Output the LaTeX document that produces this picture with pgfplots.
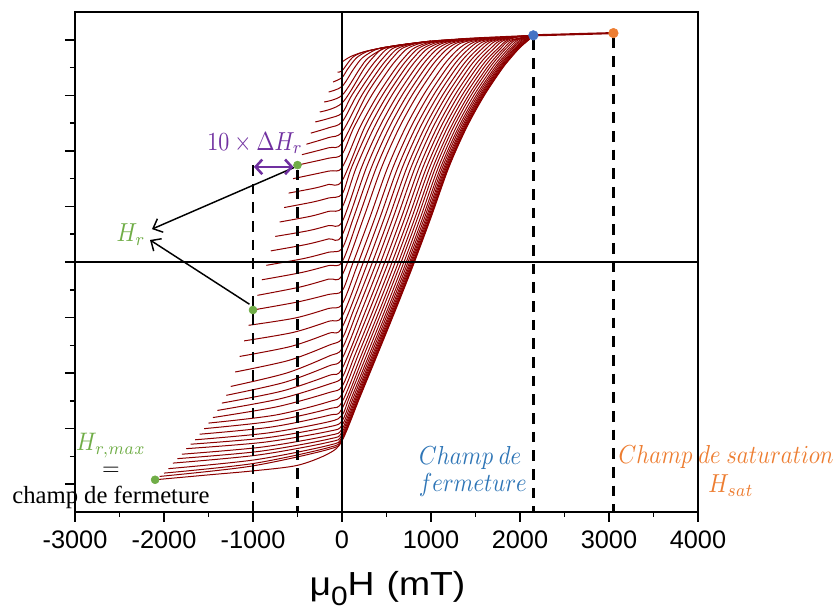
\documentclass[border=0pt]{standalone}
\usepackage{graphicx}
\usepackage{fontspec}
\setmainfont{Liberation Serif}
\newfontfamily\arial{Liberation Sans}
\usepackage{pgfplots}
\pgfplotsset{compat=1.18}
\usetikzlibrary{arrows.meta}
\definecolor{curvec}{RGB}{139,0,0}
\definecolor{grn}{RGB}{112,173,71}
\definecolor{purp}{RGB}{112,48,160}
\definecolor{bluedot}{RGB}{68,114,196}
\definecolor{bluetxt}{RGB}{46,117,182}
\definecolor{orng}{RGB}{237,125,49}
\begin{document}
\begin{tikzpicture}
\useasboundingbox (-56.25pt,-78pt) rectangle (573.75pt,384pt);
\begin{axis}[
  at={(0,0)}, anchor=south west,
  scale only axis, width=467.25pt, height=375pt,
  xmin=-3000, xmax=4000, ymin=-1.125, ymax=1.125,
  xtick={-3000,-2000,...,4000},
  xticklabels={-3000,-2000,-1000,0,1000,2000,3000,4000},
  minor xtick={-2500,-1500,...,3500},
  ytick={-1,-0.75,...,1}, yticklabels={},
  minor ytick={-0.875,-0.625,...,0.875},
  tick align=outside, tick pos=left,
  major tick length=7.5pt, minor tick length=3.75pt,
  major tick style={black, line width=1.1pt},
  minor tick style={black, line width=1.1pt},
  axis line style={line width=1.1pt},
  xticklabel style={font=\arial\fontsize{19}{19}\selectfont, yshift=-3pt},
  clip=false,
  fc/.style={curvec, line width=0.75pt, smooth},
  dl/.style={black, line width=2pt, dash pattern=on 8pt off 6pt},
]
% FORC curves
\addplot[fc] coordinates {(0,0.90) (100,0.925) (250,0.946) (500,0.967) (750,0.982) (1000,0.994) (1400,1.006) (1800,1.014) (2150,1.02)};
\addplot[fc] coordinates {(-50,0.855) (0,0.86) (117,0.92) (250,0.946) (500,0.967)};
\addplot[fc] coordinates {(-100,0.81) (0,0.83) (67,0.87) (167,0.92) (300,0.95) (500,0.967) (750,0.982)};
\addplot[fc] coordinates {(-150,0.765) (0,0.79) (133,0.87) (233,0.92) (400,0.959) (600,0.973) (800,0.984)};
\addplot[fc] coordinates {(-200,0.72) (0,0.75) (200,0.87) (300,0.92) (500,0.965) (750,0.982) (1000,0.994)};
\addplot[fc] coordinates {(-250,0.675) (0,0.715) (248,0.87) (348,0.92) (448,0.958) (600,0.972) (800,0.984) (1000,0.994)};
\addplot[fc] coordinates {(-300,0.63) (-150,0.646) (0,0.67) (110,0.75) (310,0.87) (410,0.92) (510,0.96) (650,0.975) (850,0.987) (1000,0.994)};
\addplot[fc] coordinates {(-350,0.58) (-150,0.604) (0,0.63) (166,0.75) (366,0.87) (466,0.92) (566,0.96) (700,0.977) (900,0.988) (1100,0.997)};
\addplot[fc] coordinates {(-400,0.53) (-150,0.56) (0,0.585) (222,0.75) (422,0.87) (522,0.92) (622,0.96) (760,0.979) (950,0.991) (1150,0.998)};
\addplot[fc] coordinates {(-450,0.483) (-150,0.514) (0,0.535) (272,0.75) (472,0.87) (572,0.92) (672,0.96) (820,0.982) (1000,0.993) (1200,1.0)};
\addplot[fc] coordinates {(-500,0.436) (-150,0.467) (0,0.485) (133,0.605) (333,0.75) (533,0.87) (633,0.92) (733,0.96) (880,0.984) (1050,0.994) (1250,1.001)};
\addplot[fc] coordinates {(-550,0.375) (-150,0.409) (0,0.425) (200,0.605) (400,0.75) (600,0.87) (700,0.92) (800,0.96) (950,0.985) (1150,0.996) (1350,1.004)};
\addplot[fc] coordinates {(-600,0.31) (-300,0.333) (-150,0.349) (0,0.365) (253,0.605) (453,0.75) (653,0.87) (753,0.92) (853,0.96) (1000,0.986) (1200,0.998) (1400,1.005)};
\addplot[fc] coordinates {(-650,0.245) (-325,0.27) (-150,0.288) (0,0.305) (107,0.425) (307,0.605) (507,0.75) (707,0.87) (807,0.92) (907,0.96) (1050,0.986) (1250,0.999) (1450,1.006)};
\addplot[fc] coordinates {(-700,0.18) (-350,0.206) (-150,0.228) (0,0.245) (160,0.425) (360,0.605) (560,0.75) (760,0.87) (860,0.92) (960,0.96) (1100,0.986) (1300,1.0) (1500,1.007)};
\addplot[fc] coordinates {(-750,0.115) (-375,0.141) (-150,0.164) (0,0.18) (219,0.425) (419,0.605) (619,0.75) (819,0.87) (919,0.92) (1019,0.96) (1150,0.987) (1350,1.001) (1550,1.008)};
\addplot[fc] coordinates {(-800,0.05) (-400,0.079) (-150,0.104) (0,0.12) (274,0.425) (474,0.605) (674,0.75) (874,0.87) (974,0.92) (1074,0.96) (1200,0.987) (1400,1.002) (1600,1.009)};
\addplot[fc] coordinates {(-850,-0.015) (-425,0.016) (-150,0.044) (0,0.06) (130,0.20) (330,0.425) (530,0.605) (730,0.75) (930,0.87) (1030,0.92) (1130,0.96) (1250,0.987) (1450,1.003) (1650,1.01)};
\addplot[fc] coordinates {(-900,-0.08) (-450,-0.047) (-150,-0.016) (0,0.0) (186,0.20) (386,0.425) (586,0.605) (786,0.75) (986,0.87) (1086,0.92) (1186,0.96) (1300,0.987) (1500,1.003) (1700,1.011)};
\addplot[fc] coordinates {(-950,-0.15) (-475,-0.113) (-150,-0.077) (0,-0.06) (244,0.20) (444,0.425) (644,0.605) (844,0.75) (1044,0.87) (1144,0.92) (1244,0.96) (1350,0.987) (1550,1.004) (1750,1.012)};
\addplot[fc] coordinates {(-1000,-0.216) (-500,-0.18) (-150,-0.146) (0,-0.13) (113,-0.015) (313,0.20) (513,0.425) (713,0.605) (913,0.75) (1113,0.87) (1213,0.92) (1313,0.96) (1420,0.988) (1600,1.004) (1800,1.012)};
\addplot[fc] coordinates {(-1050,-0.285) (-525,-0.252) (-150,-0.209) (0,-0.19) (172,-0.015) (372,0.20) (572,0.425) (772,0.605) (972,0.75) (1172,0.87) (1272,0.92) (1372,0.96) (1480,0.989) (1650,1.005) (1850,1.013)};
\addplot[fc] coordinates {(-1100,-0.355) (-550,-0.317) (-150,-0.267) (0,-0.245) (227,-0.015) (427,0.20) (627,0.425) (827,0.605) (1027,0.75) (1227,0.87) (1327,0.92) (1427,0.96) (1530,0.99) (1700,1.006) (1900,1.014)};
\addplot[fc] coordinates {(-1150,-0.425) (-575,-0.38) (-150,-0.321) (0,-0.295) (278,-0.015) (478,0.20) (678,0.425) (878,0.605) (1078,0.75) (1278,0.87) (1378,0.92) (1478,0.96) (1580,0.99) (1750,1.007) (1950,1.015)};
\addplot[fc] coordinates {(-1200,-0.495) (-600,-0.443) (-150,-0.375) (0,-0.345) (129,-0.218) (329,-0.015) (529,0.20) (729,0.425) (929,0.605) (1129,0.75) (1329,0.87) (1429,0.92) (1529,0.96) (1630,0.991) (1800,1.008) (2000,1.016)};
\addplot[fc] coordinates {(-1250,-0.56) (-625,-0.50) (-150,-0.424) (0,-0.39) (175,-0.218) (375,-0.015) (575,0.20) (775,0.425) (975,0.605) (1175,0.75) (1375,0.87) (1475,0.92) (1575,0.96) (1675,0.992) (1850,1.009) (2050,1.017)};
\addplot[fc] coordinates {(-1300,-0.60) (-650,-0.542) (-150,-0.468) (0,-0.435) (221,-0.218) (421,-0.015) (621,0.20) (821,0.425) (1021,0.605) (1221,0.75) (1421,0.87) (1521,0.92) (1621,0.96) (1721,0.993) (1900,1.011) (2100,1.018)};
\addplot[fc] coordinates {(-1350,-0.635) (-675,-0.581) (-150,-0.511) (0,-0.48) (267,-0.218) (467,-0.015) (667,0.20) (867,0.425) (1067,0.605) (1267,0.75) (1467,0.87) (1567,0.92) (1667,0.96) (1767,0.994) (1950,1.013) (2150,1.02)};
\addplot[fc] coordinates {(-1400,-0.668) (-700,-0.616) (-150,-0.55) (0,-0.52) (108,-0.415) (308,-0.218) (508,-0.015) (708,0.20) (908,0.425) (1108,0.605) (1308,0.75) (1508,0.87) (1608,0.92) (1708,0.96) (1808,0.995) (2000,1.015) (2150,1.02)};
\addplot[fc] coordinates {(-1450,-0.70) (-725,-0.651) (-150,-0.588) (0,-0.56) (149,-0.415) (349,-0.218) (549,-0.015) (749,0.20) (949,0.425) (1149,0.605) (1349,0.75) (1549,0.87) (1649,0.92) (1749,0.96) (1849,0.996) (2000,1.015) (2150,1.02)};
\addplot[fc] coordinates {(-1500,-0.725) (-750,-0.689) (-150,-0.629) (0,-0.595) (185,-0.415) (385,-0.218) (585,-0.015) (785,0.20) (985,0.425) (1185,0.605) (1385,0.75) (1585,0.87) (1685,0.92) (1785,0.962) (1885,0.997) (2150,1.02)};
\addplot[fc] coordinates {(-1550,-0.75) (-775,-0.716) (-150,-0.661) (0,-0.63) (221,-0.415) (421,-0.218) (621,-0.015) (821,0.20) (1021,0.425) (1221,0.605) (1421,0.75) (1621,0.87) (1721,0.92) (1821,0.963) (1921,0.998) (2150,1.02)};
\addplot[fc] coordinates {(-1600,-0.775) (-800,-0.743) (-150,-0.69) (0,-0.66) (251,-0.415) (451,-0.218) (651,-0.015) (851,0.20) (1051,0.425) (1251,0.605) (1451,0.75) (1651,0.87) (1751,0.92) (1851,0.964) (1951,0.999) (2150,1.02)};
\addplot[fc] coordinates {(-1650,-0.80) (-825,-0.769) (-150,-0.719) (0,-0.69) (82,-0.61) (282,-0.415) (482,-0.218) (682,-0.015) (882,0.20) (1082,0.425) (1282,0.605) (1482,0.75) (1682,0.87) (1782,0.92) (1882,0.965) (1982,1.0) (2150,1.02)};
\addplot[fc] coordinates {(-1700,-0.82) (-850,-0.791) (-150,-0.742) (0,-0.715) (108,-0.61) (308,-0.415) (508,-0.218) (708,-0.015) (908,0.20) (1108,0.425) (1308,0.605) (1508,0.75) (1708,0.87) (1808,0.92) (1908,0.965) (2008,1.0) (2150,1.02)};
\addplot[fc] coordinates {(-1750,-0.84) (-875,-0.811) (-150,-0.762) (0,-0.735) (128,-0.61) (328,-0.415) (528,-0.218) (728,-0.015) (928,0.20) (1128,0.425) (1328,0.605) (1528,0.75) (1728,0.87) (1828,0.92) (1928,0.965) (2028,1.0) (2150,1.02)};
\addplot[fc] coordinates {(-1800,-0.865) (-900,-0.833) (-150,-0.781) (0,-0.752) (146,-0.61) (346,-0.415) (546,-0.218) (746,-0.015) (946,0.20) (1146,0.425) (1346,0.605) (1546,0.75) (1746,0.87) (1846,0.92) (1946,0.965) (2046,1.0) (2150,1.02)};
\addplot[fc] coordinates {(-1850,-0.885) (-925,-0.852) (-150,-0.797) (0,-0.766) (160,-0.61) (360,-0.415) (560,-0.218) (760,-0.015) (960,0.20) (1160,0.425) (1360,0.605) (1560,0.75) (1760,0.87) (1860,0.92) (1960,0.965) (2060,1.0) (2150,1.02)};
\addplot[fc] coordinates {(-1900,-0.905) (-950,-0.869) (-150,-0.811) (0,-0.778) (172,-0.61) (372,-0.415) (572,-0.218) (772,-0.015) (972,0.20) (1172,0.425) (1372,0.605) (1572,0.75) (1772,0.87) (1872,0.92) (1972,0.965) (2072,1.0) (2150,1.02)};
\addplot[fc] coordinates {(-1950,-0.93) (-975,-0.89) (-150,-0.825) (0,-0.788) (183,-0.61) (383,-0.415) (583,-0.218) (783,-0.015) (983,0.20) (1183,0.425) (1383,0.605) (1583,0.75) (1783,0.87) (1883,0.92) (1983,0.965) (2083,1.0) (2150,1.02)};
\addplot[fc] coordinates {(-2000,-0.95) (-1000,-0.907) (-150,-0.835) (0,-0.795) (190,-0.61) (390,-0.415) (590,-0.218) (790,-0.015) (990,0.20) (1190,0.425) (1390,0.605) (1590,0.75) (1790,0.87) (1890,0.92) (1990,0.965) (2090,1.0) (2150,1.02)};
\addplot[fc] coordinates {(-2050,-0.965) (-1025,-0.919) (-150,-0.843) (0,-0.80) (195,-0.61) (395,-0.415) (595,-0.218) (795,-0.015) (995,0.20) (1195,0.425) (1395,0.605) (1595,0.75) (1795,0.87) (1895,0.92) (1995,0.965) (2095,1.0) (2150,1.02)};
\addplot[fc] coordinates {(-2100,-0.98) (-1500,-0.958) (-1000,-0.94) (-500,-0.915) (-150,-0.862) (0,-0.805) (200,-0.61) (400,-0.415) (600,-0.218) (800,-0.015) (1000,0.20) (1200,0.425) (1400,0.605) (1600,0.75) (1800,0.87) (1900,0.92) (2000,0.965) (2100,1.0) (2150,1.02)};
\addplot[curvec, line width=1.6pt] coordinates {(2150,1.02) (3050,1.03)};
% zero lines
\addplot[black, line width=0.9pt] coordinates {(0,-1.125) (0,1.125)};
\addplot[black, line width=0.9pt] coordinates {(-3000,0) (4000,0)};
% dashed lines
\addplot[dl] coordinates {(-1000,0.436) (-1000,-1.125)};
\addplot[dl] coordinates {(-500,0.415) (-500,-1.125)};
\addplot[dl] coordinates {(2150,1.0) (2150,-1.125)};
\addplot[dl] coordinates {(3050,1.01) (3050,-1.125)};
% points
\addplot[only marks, mark=*, mark size=3pt, color=grn] coordinates {(-500,0.436) (-1000,-0.216) (-2100,-0.98)};
\addplot[only marks, mark=*, mark size=3.6pt, color=bluedot] coordinates {(2150,1.02)};
\addplot[only marks, mark=*, mark size=3.6pt, color=orng] coordinates {(3050,1.03)};
% annotations
\draw[-{Straight Barb[length=6pt,width=11pt]}, line width=1.1pt] (-540,0.425) -- (-2135,0.148);
\draw[-{Straight Barb[length=6pt,width=11pt]}, line width=1.1pt] (-1040,-0.19) -- (-2157,0.099);
\draw[{Straight Barb[length=5pt,width=11pt]}-{Straight Barb[length=5pt,width=11pt]}, purp, line width=1.9pt] (-990,0.428) -- (-545,0.428);
\node[purp, inner sep=0pt] at (-977,0.535) {\scalebox{1.65}[1.95]{$10\times\Delta H_r$}};
\node[grn, inner sep=0pt] at (-2370,0.122) {\scalebox{1.7}[1.95]{$H_r$}};
\node[grn, inner sep=0pt] at (-2596,-0.825) {\scalebox{1.7}[1.9]{$H_{r,max}$}};
\node[black, inner sep=0pt] at (-2596,-0.94) {\scalebox{1.7}{$=$}};
\node[black, inner sep=0pt, font=\fontsize{18.5}{20}\selectfont] at (-2596,-1.058) {champ de fermeture};
\node[bluetxt, inner sep=0pt] at (1440,-0.882) {\scalebox{1.7}[1.95]{$Champ\ de$}};
\node[bluetxt, inner sep=0pt] at (1470,-1.004) {\scalebox{1.7}[1.95]{$fermeture$}};
\node[orng, inner sep=0pt] at (4315,-0.878) {\scalebox{1.7}[1.95]{$Champ\ de\ saturation$}};
\node[orng, inner sep=0pt] at (4371,-1.008) {\scalebox{1.7}[1.95]{$H_{sat}$}};
\node[anchor=base, inner sep=0pt, font=\arial\fontsize{25}{25}\selectfont] at (rel axis cs:0.5016,-0.168) {\scalebox{1.12}[1]{μ\raisebox{-0.28em}{\fontsize{20}{20}\selectfont 0}H\hspace{0.32em}(mT)}};
\end{axis}
\end{tikzpicture}
\end{document}
